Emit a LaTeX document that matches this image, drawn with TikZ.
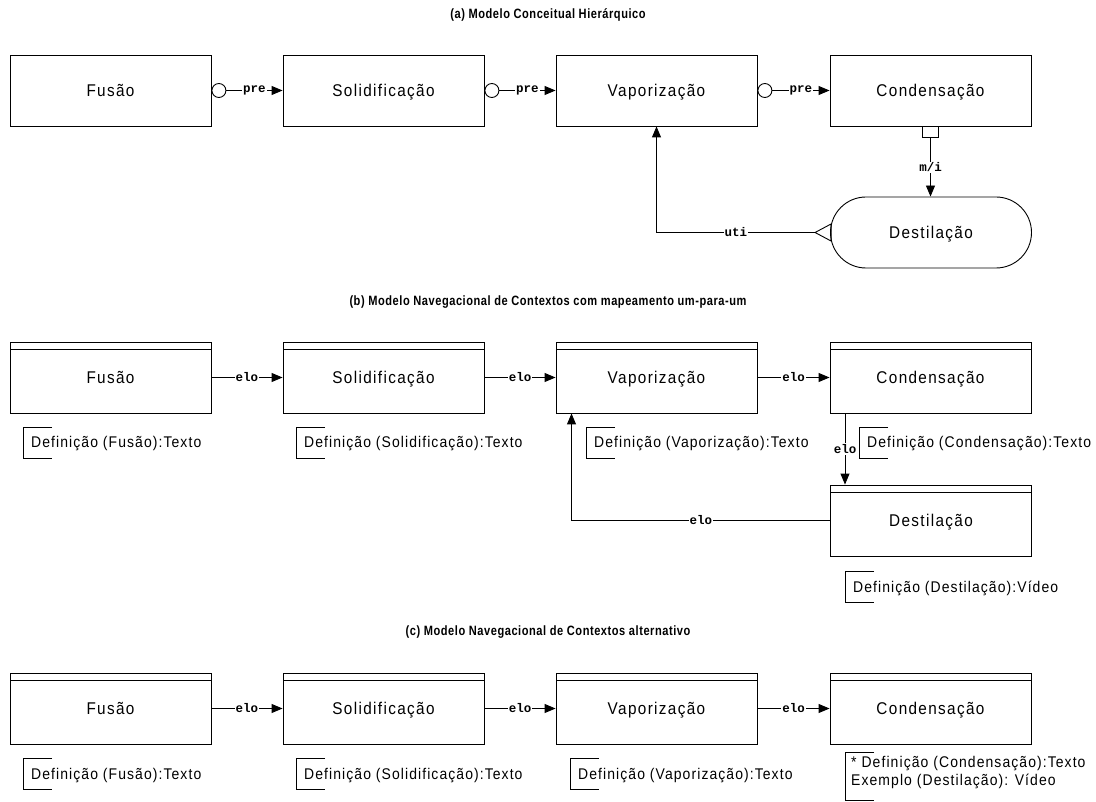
\documentclass[tikz,border=0pt]{standalone}
\usepackage{fontspec}
\setmainfont{Liberation Sans}
\newfontfamily\boxfont[FakeStretch=0.9,LetterSpace=8]{Liberation Sans}
\newfontfamily\notefont[FakeStretch=0.9,LetterSpace=7]{Liberation Sans}
\newfontfamily\titlefont[FakeStretch=0.82,LetterSpace=4]{Liberation Sans}
\newfontfamily\lblfont{Liberation Mono}
\usetikzlibrary{arrows.meta}
\tikzset{
  ent/.style={draw, line width=0.9pt, minimum width=201pt, minimum height=71pt, inner sep=0pt,
    text height=12.2pt, text depth=0pt,
    font=\boxfont\fontsize{17}{20}\selectfont},
  hdr/.style={ent, path picture={\draw[line width=0.9pt] ([yshift=-7pt]path picture bounding box.north west) -- ([yshift=-7pt]path picture bounding box.north east);}},
  stad/.style={ent, rounded corners=35.5pt},
  arr/.style={line width=0.9pt, -{Triangle[length=11pt,width=9pt]}},
  plain/.style={line width=0.9pt},
  lbl/.style={fill=white, inner sep=1pt, font=\lblfont\bfseries\fontsize{12.5}{14}\selectfont},
  notetext/.style={inner sep=0pt, font=\notefont\fontsize{15.5}{18}\selectfont},
  ttl/.style={font=\titlefont\bfseries\fontsize{13.5}{16}\selectfont}
}
\newcommand\notebr[4]{%
  \node[notetext, anchor=west, text height=11pt, text depth=0pt] (#1) at ({#2+8},{#3}) {#4};
  \draw[plain] ({#2+29},{#3-15.5}) -| ({#2},{#3+15.5}) -- ({#2+29},{#3+15.5});
}
\begin{document}
\begin{tikzpicture}[x=1pt,y=-1pt]
\useasboundingbox (0,0) rectangle (1096,802);

% ---------- (a)
\node[ttl] (ta) at (548,15) {(a) Modelo Conceitual Hierárquico};
\node[ent] (a1) at (110.5,90.5) {Fusão};
\node[ent] (a2) at (383.5,90.5) {Solidificação};
\node[ent] (a3) at (656.5,90.5) {Vaporização};
\node[ent] (a4) at (930.5,90.5) {Condensação};
\node[stad] (ad) at (931,232.5) {Destilação};

\node[circle, draw, line width=0.9pt, minimum size=14pt, inner sep=0pt, anchor=west] (c1) at (a1.east) {};
\node[circle, draw, line width=0.9pt, minimum size=14pt, inner sep=0pt, anchor=west] (c2) at (a2.east) {};
\node[circle, draw, line width=0.9pt, minimum size=14pt, inner sep=0pt, anchor=west] (c3) at (a3.east) {};
\draw[arr] (c1.east) -- node[lbl]{pre} (a2.west);
\draw[arr] (c2.east) -- node[lbl]{pre} (a3.west);
\draw[arr] (c3.east) -- node[lbl]{pre} (a4.west);

\node[draw, line width=0.9pt, minimum width=16pt, minimum height=11pt, inner sep=0pt, anchor=north] (sq) at (a4.south) {};
\draw[arr] (sq.south) -- node[lbl]{m/i} (sq.south |- ad.north);

\coordinate (tip) at ([xshift=-15pt]ad.west);
\draw[plain, line join=miter] ([shift={(1pt,8.5pt)}]ad.west) -- (tip) -- ([shift={(1pt,-8.5pt)}]ad.west) -- cycle;
\draw[arr] (tip) -- node[lbl]{uti} (a3.south |- tip) -- (a3.south);

% ---------- (b)
\node[ttl] (tb) at (548,302) {(b) Modelo Navegacional de Contextos com mapeamento um-para-um};
\node[hdr] (b1) at (110.5,377.5) {Fusão};
\node[hdr] (b2) at (383.5,377.5) {Solidificação};
\node[hdr] (b3) at (656.5,377.5) {Vaporização};
\node[hdr] (b4) at (930.5,377.5) {Condensação};
\node[hdr] (b5) at (931,520.5) {Destilação};
\draw[arr] (b1.east) -- node[lbl]{elo} (b2.west);
\draw[arr] (b2.east) -- node[lbl]{elo} (b3.west);
\draw[arr] (b3.east) -- node[lbl]{elo} (b4.west);
\draw[arr] ([xshift=-85.5pt]b4.south) coordinate (d0) -- node[lbl]{elo} (d0 |- b5.north);
\draw[arr] (b5.west) -- node[lbl]{elo} ([xshift=-85pt]b3.south |- b5.west) -- ([xshift=-85pt]b3.south);

\notebr{nb1}{23}{442.5}{Definição (Fusão):Texto}
\notebr{nb2}{296}{442.5}{Definição (Solidificação):Texto}
\notebr{nb3}{586}{442.5}{Definição (Vaporização):Texto}
\notebr{nb4}{859}{442.5}{Definição (Condensação):Texto}
\notebr{nb5}{845}{586.5}{Definição (Destilação):Vídeo}

% ---------- (c)
\node[ttl] (tc) at (548,632) {(c) Modelo Navegacional de Contextos alternativo};
\node[hdr] (e1) at (110.5,708.5) {Fusão};
\node[hdr] (e2) at (383.5,708.5) {Solidificação};
\node[hdr] (e3) at (656.5,708.5) {Vaporização};
\node[hdr] (e4) at (930.5,708.5) {Condensação};
\draw[arr] (e1.east) -- node[lbl]{elo} (e2.west);
\draw[arr] (e2.east) -- node[lbl]{elo} (e3.west);
\draw[arr] (e3.east) -- node[lbl]{elo} (e4.west);

\notebr{nc1}{23}{773.5}{Definição (Fusão):Texto}
\notebr{nc2}{296}{773.5}{Definição (Solidificação):Texto}
\notebr{nc3}{570}{773.5}{Definição (Vaporização):Texto}
\node[notetext, anchor=north west, align=left] (nc4) at (851,756) {* Definição (Condensação):Texto\\Exemplo (Destilação): Vídeo};
\draw[plain] (874,752) -| (845,800) -- (874,800);
\end{tikzpicture}
\end{document}
